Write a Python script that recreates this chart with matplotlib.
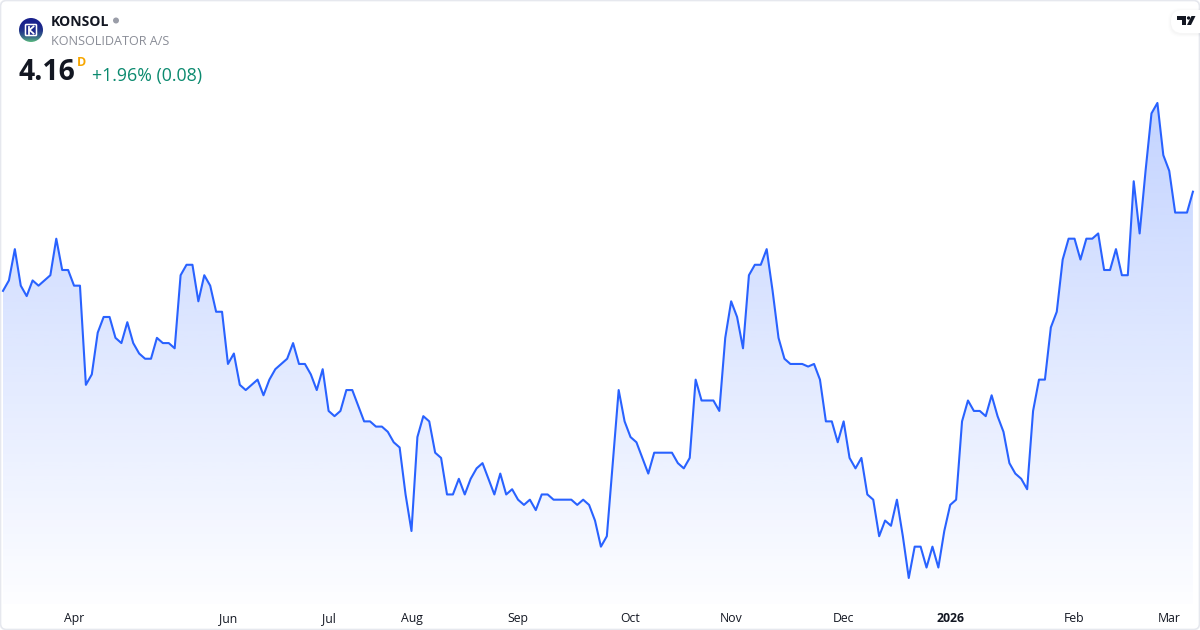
# KONSOL daily price area chart
import numpy as np
import matplotlib
matplotlib.use('Agg')
import matplotlib.pyplot as plt
from matplotlib.patches import Circle, FancyBboxPatch, Polygon

# closing prices
prices = [
    3.78, 3.82, 3.94, 3.80, 3.76, 3.82, 3.80, 3.82, 3.84, 3.98,
    3.86, 3.86, 3.80, 3.80, 3.42, 3.46, 3.62, 3.68, 3.68, 3.60,
    3.58, 3.66, 3.58, 3.54, 3.52, 3.52, 3.60, 3.58, 3.58, 3.56,
    3.84, 3.88, 3.88, 3.74, 3.84, 3.80, 3.70, 3.70, 3.50, 3.54,
    3.42, 3.40, 3.42, 3.44, 3.38, 3.44, 3.48, 3.50, 3.52, 3.58,
    3.50, 3.50, 3.46, 3.40, 3.48, 3.32, 3.30, 3.32, 3.40, 3.40,
    3.34, 3.28, 3.28, 3.26, 3.26, 3.24, 3.20, 3.18, 3.00, 2.86,
    3.22, 3.30, 3.28, 3.16, 3.14, 3.00, 3.00, 3.06, 3.00, 3.06,
    3.10, 3.12, 3.06, 3.00, 3.08, 3.00, 3.02, 2.98, 2.96, 2.98,
    2.94, 3.00, 3.00, 2.98, 2.98, 2.98, 2.98, 2.96, 2.98, 2.96,
    2.90, 2.80, 2.84, 3.12, 3.40, 3.28, 3.22, 3.20, 3.14, 3.08,
    3.16, 3.16, 3.16, 3.16, 3.12, 3.10, 3.14, 3.44, 3.36, 3.36,
    3.36, 3.32, 3.60, 3.74, 3.68, 3.56, 3.84, 3.88, 3.88, 3.94,
    3.78, 3.60, 3.52, 3.50, 3.50, 3.50, 3.49, 3.50, 3.44, 3.28,
    3.28, 3.20, 3.28, 3.14, 3.10, 3.14, 3.00, 2.98, 2.84, 2.90,
    2.88, 2.98, 2.84, 2.68, 2.80, 2.80, 2.72, 2.80, 2.72, 2.86,
    2.96, 2.98, 3.28, 3.36, 3.32, 3.32, 3.30, 3.38, 3.30, 3.24,
    3.12, 3.08, 3.06, 3.02, 3.32, 3.44, 3.44, 3.64, 3.70, 3.90,
    3.98, 3.98, 3.90, 3.98, 3.98, 4.00, 3.86, 3.86, 3.94, 3.84,
    3.84, 4.20, 4.00, 4.24, 4.46, 4.50, 4.30, 4.24, 4.08, 4.08,
    4.08, 4.16,
]
tick_pos = [12, 38, 55, 69, 87, 106, 123, 142, 160, 181, 197]
tick_labels = ['Apr', 'Jun', 'Jul', 'Aug', 'Sep', 'Oct', 'Nov', 'Dec', '2026', 'Feb', 'Mar']

plt.rcParams['font.family'] = ['Open Sans', 'DejaVu Sans']

W, H = 1200, 630
AXIS_Y = 604      # pixel row where the price pane ends
LINE_BLUE = '#2962ff'

fig = plt.figure(figsize=(W / 100, H / 100), dpi=100, facecolor='white')
ax = fig.add_axes([0, (H - AXIS_Y) / H, 1, AXIS_Y / H])

# scale: 5.92 px per bar, 261 px per price unit
xs = np.arange(len(prices))
ax.set_xlim(-3 / 5.92, (W - 3) / 5.92)
ax.set_ylim(4.16 - (AXIS_Y - 191.7) / 261, 4.16 + 191.7 / 261)

# area under the line, vertical fade
y0, y1 = ax.get_ylim()
top_price = max(prices)
alpha = np.linspace(0.28, 0.01, 256).reshape(-1, 1)
grad = np.ones((256, 1, 4))
grad[..., 0] = 41 / 255
grad[..., 1] = 98 / 255
grad[..., 2] = 1.0
grad[..., 3] = alpha
im = ax.imshow(grad, extent=[0, len(prices) - 1, y0, top_price], aspect='auto',
               origin='upper', zorder=1, interpolation='bilinear')
ax.set_xlim(-3 / 5.92, (W - 3) / 5.92)
ax.set_ylim(y0, y1)
area = ax.fill_between(xs, prices, y0, facecolor='none', edgecolor='none')
im.set_clip_path(area.get_paths()[0], transform=ax.transData)

ax.plot(xs, prices, color=LINE_BLUE, lw=1.5, solid_joinstyle='round', zorder=2)

ax.set_yticks([])
ax.set_xticks(tick_pos)
ax.set_xticklabels(tick_labels, fontsize=8.8, color='#131722')
ax.get_xticklabels()[tick_labels.index('2026')].set_fontweight('bold')
ax.tick_params(axis='x', length=0, pad=5.6)
for s in ax.spines.values():
    s.set_visible(False)

# overlay in pixel coordinates for header and card decoration
ov = fig.add_axes([0, 0, 1, 1], zorder=5)
ov.set_xlim(0, W)
ov.set_ylim(H, 0)
ov.axis('off')
ov.patch.set_alpha(0)

ov.add_patch(FancyBboxPatch((0.5, 0.5), W - 1, H - 1, boxstyle='round,pad=0,rounding_size=6',
                            fc='none', ec='#e6e8ee', lw=1.2))

# symbol logo
logo_grad = np.linspace(0, 1, 64).reshape(-1, 1)
logo_rgb = np.zeros((64, 1, 3))
logo_rgb[..., 0] = (0.10 + 0.25 * logo_grad ** 3)
logo_rgb[..., 1] = (0.13 + 0.60 * logo_grad ** 3)
logo_rgb[..., 2] = (0.55 - 0.05 * logo_grad ** 3)
logo = ov.imshow(logo_rgb, extent=[19, 43, 42, 18], aspect='auto', interpolation='bilinear')
ov.set_xlim(0, W)
ov.set_ylim(H, 0)
circ = Circle((31, 30), 12, transform=ov.transData, fc='none', ec='none')
ov.add_patch(circ)
logo.set_clip_path(circ)
ov.add_patch(FancyBboxPatch((25.5, 24.5), 11, 11, boxstyle='round,pad=0,rounding_size=0.8',
                            fc='#1d2a8c', ec='white', lw=1.1))
ov.plot([28.7, 28.7], [26.5, 33.5], color='white', lw=1.3)
ov.plot([33.5, 29.5, 33.5], [26.5, 30, 33.5], color='white', lw=1.3)

# header
ov.text(51, 22, 'KONSOL', fontsize=10.1, fontweight='bold', color='#131722', va='center', ha='left')
ov.add_patch(Circle((116, 20.5), 3, fc='#9a9da8', ec='none'))
ov.text(51, 41.5, 'KONSOLIDATOR A/S', fontsize=9.1, color='#8a8d97', va='center', ha='left')
ov.text(18.5, 72, '4.16', fontsize=20.4, fontweight='bold', color='#131722', va='center', ha='left')
ov.text(77, 62, 'D', fontsize=9, fontweight='bold', color='#f7a600', va='center', ha='left')
ov.text(92, 75.5, '+1.96% (0.08)', fontsize=12.8, color='#0b8a6f', va='center', ha='left')

# TradingView badge with soft shadow
for grow, a in [(3, 0.008), (2, 0.012), (1, 0.016)]:
    ov.add_patch(FancyBboxPatch((1171 - grow, 10 - grow + 1), 50 + 2 * grow, 23 + 2 * grow,
                                boxstyle='round,pad=0,rounding_size=12',
                                fc='black', ec='none', alpha=a))
ov.add_patch(FancyBboxPatch((1171, 10), 50, 23, boxstyle='round,pad=0,rounding_size=11',
                            fc='white', ec='none'))
ov.add_patch(Polygon([(1177, 16), (1186, 16), (1186, 25), (1181.5, 25), (1181.5, 20), (1177, 20)],
                     fc='#131722', ec='none'))
ov.add_patch(Circle((1188.6, 18), 1.7, fc='#131722', ec='none'))
ov.add_patch(Polygon([(1191.5, 16), (1195.5, 16), (1191, 25), (1187, 25)], fc='#131722', ec='none'))

fig.savefig('out.png', dpi=100, facecolor='white')
